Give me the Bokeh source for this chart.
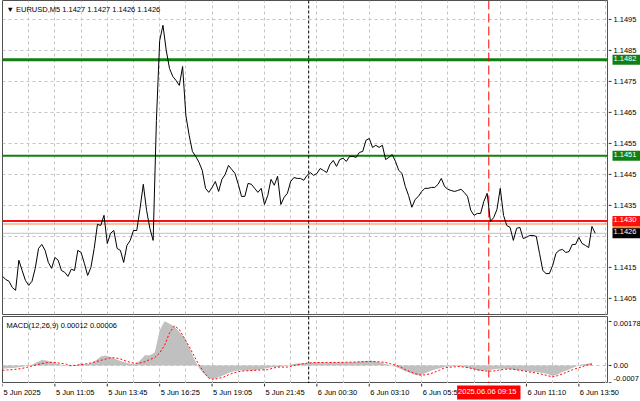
from bokeh.plotting import figure
from bokeh.layouts import column, row
from bokeh.models import Range1d, FixedTicker, Span, Label
from bokeh.core.properties import value
from bokeh.embed import file_html
from bokeh.resources import INLINE

# ---------------- data ----------------
SYMBOL = "EURUSD,M5"
LAST_OHLC = ["1.1427", "1.1427", "1.1426", "1.1426"]

# close prices sampled every 2 bars (M5 bars, bar 0 = 5 Jun 08:25)
close_bars = list(range(0, 363, 2))
close_prices = [
    1.14121, 1.14111, 1.14105, 1.14085, 1.14076, 1.14173, 1.14140, 1.14108, 1.14092, 1.14105,
    1.14147, 1.14211, 1.14224, 1.14205, 1.14166, 1.14147, 1.14182, 1.14173, 1.14140, 1.14134,
    1.14121, 1.14144, 1.14140, 1.14205, 1.14198, 1.14163, 1.14124, 1.14150, 1.14211, 1.14289,
    1.14285, 1.14318, 1.14227, 1.14260, 1.14269, 1.14211, 1.14205, 1.14166, 1.14221, 1.14237,
    1.14269, 1.14269, 1.14340, 1.14418, 1.14334, 1.14276, 1.14237, 1.14624, 1.14882, 1.14931,
    1.14850, 1.14792, 1.14766, 1.14753, 1.14737, 1.14798, 1.14640, 1.14576, 1.14524, 1.14508,
    1.14489, 1.14463, 1.14405, 1.14392, 1.14408, 1.14427, 1.14395, 1.14434, 1.14450, 1.14479,
    1.14466, 1.14453, 1.14418, 1.14379, 1.14379, 1.14421, 1.14418, 1.14405, 1.14392, 1.14405,
    1.14353, 1.14382, 1.14434, 1.14415, 1.14444, 1.14353, 1.14376, 1.14389, 1.14427, 1.14440,
    1.14437, 1.14437, 1.14431, 1.14447, 1.14456, 1.14447, 1.14453, 1.14469, 1.14463, 1.14456,
    1.14482, 1.14495, 1.14476, 1.14498, 1.14502, 1.14492, 1.14508, 1.14508, 1.14505, 1.14521,
    1.14524, 1.14560, 1.14566, 1.14537, 1.14544, 1.14537, 1.14544, 1.14498, 1.14505, 1.14514,
    1.14492, 1.14463, 1.14453, 1.14411, 1.14382, 1.14344, 1.14369, 1.14379, 1.14395, 1.14405,
    1.14405, 1.14408, 1.14408, 1.14418, 1.14437, 1.14411, 1.14402, 1.14398, 1.14395, 1.14398,
    1.14402, 1.14392, 1.14379, 1.14334, 1.14318, 1.14324, 1.14324, 1.14363, 1.14389, 1.14298,
    1.14311, 1.14337, 1.14405, 1.14318, 1.14285, 1.14279, 1.14237, 1.14276, 1.14279, 1.14243,
    1.14247, 1.14253, 1.14253, 1.14250, 1.14195, 1.14140, 1.14130, 1.14130, 1.14156, 1.14195,
    1.14205, 1.14208, 1.14198, 1.14201, 1.14224, 1.14224, 1.14247, 1.14227, 1.14221, 1.14214,
    1.14282, 1.14260,
]

# MACD(12,26,9) sampled every 3 bars
macd_bars = list(range(0, 361, 3))
macd_hist = [
    -0.000130, -0.000116, -0.000101, -0.000081, -0.000057, -0.000023, 0.000030, 0.000130, 0.000223, 0.000205,
    0.000139, 0.000081, 0.000031, -0.000019, -0.000035, 0.000007, 0.000088, 0.000040, 0.000088, 0.000202,
    0.000364, 0.000405, 0.000337, 0.000256, 0.000184, 0.000121, 0.000067, 0.000047, 0.000202, 0.000412,
    0.000412, 0.000526, 0.001422, 0.001785, 0.001687, 0.001579, 0.001350, 0.001134, 0.000733, 0.000270,
    -0.000101, -0.000337, -0.000522, -0.000553, -0.000480, -0.000397, -0.000310, -0.000243, -0.000202, -0.000202,
    -0.000202, -0.000202, -0.000175, -0.000142, -0.000108, -0.000076, -0.000058, -0.000045, -0.000003, 0.000051,
    0.000077, 0.000090, 0.000103, 0.000116, 0.000121, 0.000121, 0.000121, 0.000121, 0.000121, 0.000125,
    0.000130, 0.000132, 0.000144, 0.000165, 0.000185, 0.000198, 0.000159, 0.000115, 0.000058, 0.000004,
    -0.000050, -0.000135, -0.000232, -0.000310, -0.000372, -0.000402, -0.000314, -0.000233, -0.000167, -0.000111,
    -0.000065, -0.000038, -0.000028, -0.000036, -0.000055, -0.000100, -0.000177, -0.000217, -0.000216, -0.000192,
    -0.000158, -0.000135, -0.000135, -0.000143, -0.000177, -0.000197, -0.000215, -0.000233, -0.000252, -0.000275,
    -0.000308, -0.000347, -0.000426, -0.000370, -0.000269, -0.000190, -0.000104, -0.000018, 0.000047, 0.000067,
    0.000100,
]
macd_signal = [
    -0.000197, -0.000184, -0.000169, -0.000148, -0.000119, -0.000073, -0.000024, 0.000028, 0.000076, 0.000109,
    0.000131, 0.000111, 0.000084, 0.000049, -0.000011, 0.000009, 0.000031, 0.000066, 0.000097, 0.000152,
    0.000205, 0.000258, 0.000310, 0.000310, 0.000262, 0.000189, 0.000124, 0.000086, 0.000099, 0.000151,
    0.000242, 0.000318, 0.000507, 0.000819, 0.001316, 0.001603, 0.001451, 0.001116, 0.000769, 0.000386,
    0.000023, -0.000275, -0.000513, -0.000563, -0.000522, -0.000472, -0.000377, -0.000306, -0.000254, -0.000224,
    -0.000215, -0.000204, -0.000188, -0.000177, -0.000169, -0.000116, -0.000067, -0.000067, -0.000065, -0.000019,
    0.000027, 0.000061, 0.000093, 0.000108, 0.000120, 0.000121, 0.000121, 0.000121, 0.000121, 0.000125,
    0.000130, 0.000132, 0.000139, 0.000147, 0.000155, 0.000161, 0.000151, 0.000142, 0.000120, 0.000066,
    0.000016, -0.000066, -0.000165, -0.000252, -0.000332, -0.000388, -0.000382, -0.000343, -0.000269, -0.000189,
    -0.000096, -0.000072, -0.000057, -0.000043, -0.000066, -0.000099, -0.000142, -0.000188, -0.000216, -0.000236,
    -0.000221, -0.000191, -0.000163, -0.000143, -0.000154, -0.000188, -0.000220, -0.000254, -0.000287, -0.000320,
    -0.000363, -0.000416, -0.000463, -0.000412, -0.000343, -0.000259, -0.000177, -0.000111, -0.000057, 0.000016,
    0.000059,
]
MACD_NOW = "0.00012"
SIGNAL_NOW = "0.00006"

time_tick_bars = [0, 32, 64, 96, 128, 160, 192, 224, 256, 320, 352]
time_tick_labels = ["5 Jun 2025", "5 Jun 11:05", "5 Jun 13:45", "5 Jun 16:25", "5 Jun 19:05",
                    "5 Jun 21:45", "6 Jun 00:30", "6 Jun 03:10", "6 Jun 05:50", "6 Jun 11:10",
                    "6 Jun 13:50"]
grid_bars = list(range(0, 369, 16))

price_axis_ticks = [1.1405, 1.1415, 1.1435, 1.1445, 1.1455, 1.1465, 1.1475, 1.1485, 1.1495]
price_grid_ticks = [1.1405, 1.1415, 1.1425, 1.1435, 1.1445, 1.1455, 1.1465, 1.1475, 1.1485, 1.1495]
macd_axis_ticks = [0.00178, 0.0, -0.0007]
macd_axis_labels = ["0.00178", "0.00", "-0.0007"]

level_prices = [1.1429, 1.1430, 1.1451, 1.1482]
level_colors = ["#ff8040", "#ff1010", "#108010", "#108010"]
level_widths = [1, 2, 2, 3]
bid_price = 1.1426

day_sep_bar = 187
cursor_bar = 297
cursor_text = "2025.06.06 09:15"

# ---------------- layout constants ----------------
X_END = 369.5
PRICE_LO, PRICE_HI = 1.13998, 1.15011
MACD_LO, MACD_HI = -0.00073, 0.00198
FONT = "Liberation Sans"
FS = "7.5px"
GRID_COLOR = "#c4c4c4"
FRAME_COLOR = "#505050"
TICK_COLOR = "#303030"
FRAME_W = 605
SIDE_W = 32
TB_W = FRAME_W + 1 + SIDE_W

x_range = Range1d(0, X_END)
tb_range = Range1d(0, X_END * TB_W / FRAME_W)   # same bar-to-pixel scale, wider strip
price_range = Range1d(PRICE_LO, PRICE_HI)
macd_range = Range1d(MACD_LO, MACD_HI)


def base_fig(fw, fh, xr, yr, **borders):
    f = figure(frame_width=fw, frame_height=fh, x_range=xr, y_range=yr,
               output_backend="svg", toolbar_location=None,
               x_axis_location=None, y_axis_location=None,
               min_border_left=borders.get("left", 0), min_border_right=borders.get("right", 0),
               min_border_top=borders.get("top", 0), min_border_bottom=borders.get("bottom", 0))
    f.background_fill_color = "white"
    f.border_fill_color = "white"
    f.outline_line_color = None
    f.grid.visible = False
    return f


def chart_fig(fh, yr, top, bottom):
    f = base_fig(FRAME_W, fh, x_range, yr, left=2, right=1, top=top, bottom=bottom)
    f.outline_line_color = FRAME_COLOR
    f.outline_line_width = 1
    f.grid.visible = True
    f.grid.grid_line_color = GRID_COLOR
    f.grid.grid_line_dash = "3 3"
    f.grid.grid_line_width = 1
    f.xgrid.ticker = FixedTicker(ticks=grid_bars)
    return f


def vlines(f):
    f.add_layout(Span(location=day_sep_bar, dimension="height", line_color="black",
                      line_dash="3 2", line_width=1, level="underlay"))
    f.add_layout(Span(location=cursor_bar, dimension="height", line_color="#ff0000",
                      line_dash="9 4", line_width=1, level="underlay"))


# ---------------- price panel ----------------
p = chart_fig(314, price_range, top=0, bottom=1)
p.ygrid.ticker = FixedTicker(ticks=price_grid_ticks)
p.add_layout(Span(location=bid_price, dimension="width", line_color="#c0c0c0",
                  line_width=1, level="underlay"))
for lv, col, w in zip(level_prices, level_colors, level_widths):
    p.add_layout(Span(location=lv, dimension="width", line_color=col,
                      line_width=w, level="underlay"))
vlines(p)
p.line(close_bars, close_prices, line_color="black", line_width=1)
p.add_layout(Label(x=0, y=PRICE_HI, x_offset=4, y_offset=-4,
                   text="\u25bc " + SYMBOL + "  " + " ".join(LAST_OHLC),
                   text_baseline="top", text_align="left", text_font=FONT,
                   text_font_size=FS, text_color="black"))

# right price scale
pr = base_fig(SIDE_W, 314, Range1d(0, SIDE_W), price_range, top=0, bottom=1)
pr.ray(x=0, y=price_axis_ticks, length=3, length_units="screen", angle=0,
       line_color=TICK_COLOR, line_width=1)
pr.text(x=0, y=price_axis_ticks, text=["%.4f" % t for t in price_axis_ticks],
        x_offset=5, text_align="left", text_baseline="middle",
        text_font=value(FONT), text_font_size=value(FS), text_color="black")
for lv, col in zip(level_prices, level_colors):
    pr.add_layout(Label(x=0, y=lv, x_offset=4, text="%.4f" % lv,
                        text_align="left", text_baseline="middle", text_font=FONT,
                        text_font_size=FS, text_color="white",
                        background_fill_color=col, padding=(1, 5, 1, 4)))
pr.add_layout(Label(x=0, y=bid_price, x_offset=4, text="%.4f" % bid_price,
                    text_align="left", text_baseline="middle", text_font=FONT,
                    text_font_size=FS, text_color="white",
                    background_fill_color="black", padding=(1, 5, 1, 4)))

# ---------------- MACD panel ----------------
m = chart_fig(67, macd_range, top=1, bottom=0)
m.ygrid.ticker = FixedTicker(ticks=[0.0])
vlines(m)
m.varea(x=macd_bars, y1=0, y2=macd_hist, fill_color="#c0c0c0")
m.line(macd_bars, macd_signal, line_color="#ff0000", line_dash="2 2", line_width=1)
m.add_layout(Label(x=0, y=MACD_HI, x_offset=4, y_offset=-4,
                   text="MACD(12,26,9) " + MACD_NOW + " " + SIGNAL_NOW,
                   text_baseline="top", text_align="left", text_font=FONT,
                   text_font_size=FS, text_color="black"))

mr = base_fig(SIDE_W, 67, Range1d(0, SIDE_W), macd_range, top=1, bottom=0)
mr.ray(x=0, y=macd_axis_ticks, length=3, length_units="screen", angle=0,
       line_color=TICK_COLOR, line_width=1)
for t, lab, dy in zip(macd_axis_ticks, macd_axis_labels, [-2, 0, 4]):
    mr.add_layout(Label(x=0, y=t, x_offset=5, y_offset=dy, text=lab,
                        text_align="left", text_baseline="middle", text_font=FONT,
                        text_font_size=FS, text_color="black"))

# ---------------- time scale ----------------
tb = base_fig(TB_W, 18, tb_range, Range1d(0, 1), left=2, right=0)
tb.ray(x=time_tick_bars, y=1, length=3, length_units="screen", angle=-1.5708,
       line_color=TICK_COLOR, line_width=1)
tb.text(x=time_tick_bars, y=0.5, text=time_tick_labels, x_offset=1,
        text_align="left", text_baseline="middle",
        text_font=value(FONT), text_font_size=value(FS), text_color="black")
tb.add_layout(Label(x=cursor_bar, y=0.5, text=cursor_text, text_align="center",
                    text_baseline="middle", text_font=FONT, text_font_size=FS,
                    text_color="white", background_fill_color="#ff0000",
                    padding=(1, 4, 1, 4)))

layout = column(row(p, pr, spacing=0), row(m, mr, spacing=0), tb, spacing=0)
open("out.html", "w").write(file_html(layout, INLINE))
